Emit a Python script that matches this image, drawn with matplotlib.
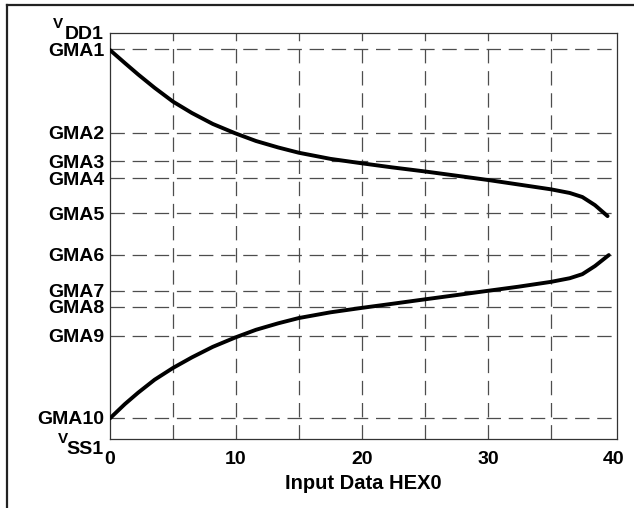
import matplotlib
matplotlib.use("Agg")
import matplotlib.pyplot as plt
from matplotlib.lines import Line2D

plt.rcParams["font.family"] = ["Liberation Sans", "DejaVu Sans"]
plt.rcParams["font.weight"] = "bold"

# gamma reference levels (relative voltage, VSS1 = 0, VDD1 = 100)
gma_labels = ["GMA1", "GMA2", "GMA3", "GMA4", "GMA5",
              "GMA6", "GMA7", "GMA8", "GMA9", "GMA10"]
gma_levels = [96.0, 75.4, 68.4, 64.2, 55.6, 45.4, 36.5, 32.6, 25.4, 5.2]

x_ticks = [0, 10, 20, 30, 40]
x_grid = [5, 10, 15, 20, 25, 30, 35]

# positive polarity curve (GMA1 -> GMA5)
upper_x = [0, 1.18, 2.23, 3.54, 5.0, 6.5, 8.16, 9.94, 11.59, 13.36, 15.0,
           17.5, 20.0, 22.4, 25.0, 27.4, 30.0, 32.4, 35.0, 36.5, 37.5, 38.5, 39.5]
upper_y = [95.8, 92.6, 89.8, 86.5, 83.1, 80.3, 77.6, 75.3, 73.4, 71.8, 70.5,
           69.0, 67.9, 66.9, 65.9, 64.9, 63.8, 62.7, 61.5, 60.6, 59.6, 57.6, 54.9]

# negative polarity curve (GMA10 -> GMA6)
lower_x = [0, 1.18, 2.23, 3.54, 5.0, 6.5, 8.16, 9.94, 11.59, 13.36, 15.0,
           17.5, 20.0, 22.4, 25.0, 27.4, 30.0, 32.4, 35.0, 36.5, 37.5, 38.5, 39.6]
lower_y = [5.1, 8.6, 11.4, 14.6, 17.5, 20.1, 22.7, 25.0, 26.9, 28.5, 29.8,
           31.2, 32.3, 33.3, 34.4, 35.4, 36.5, 37.5, 38.7, 39.6, 40.6, 42.6, 45.3]

fig = plt.figure(figsize=(6.34, 5.08), dpi=100)
ax = fig.add_axes([110 / 634, 69 / 508, 507 / 634, 406 / 508])

# outer frame (clipped at right and bottom like the source)
fig.add_artist(Line2D([7 / 634, 1.0], [1 - 5 / 508, 1 - 5 / 508], color="#222222", lw=1.6))
fig.add_artist(Line2D([7 / 634, 7 / 634], [1 - 5 / 508, 0.0], color="#222222", lw=1.6))

grid_style = dict(color="#4d4d4d", lw=0.9, dashes=(11.5, 6.2))
for lvl in gma_levels:
    ax.axhline(lvl, **grid_style, zorder=1)
for gx in x_grid:
    ax.axvline(gx, **grid_style, zorder=1)

ax.plot(upper_x, upper_y, color="black", lw=2.8, solid_capstyle="round",
        solid_joinstyle="round", zorder=3)
ax.plot(lower_x, lower_y, color="black", lw=2.8, solid_capstyle="round",
        solid_joinstyle="round", zorder=3)

ax.set_xlim(0, 40.25)
ax.set_ylim(0, 100)
ax.set_xticks(x_ticks)
ax.set_xticklabels([str(v) for v in x_ticks])
ax.set_yticks(gma_levels)
ax.set_yticklabels(gma_labels)
ax.tick_params(axis="both", length=0, labelsize=14)
ax.tick_params(axis="x", pad=9)
ax.tick_params(axis="y", pad=4)
for lbl in ax.get_xticklabels() + ax.get_yticklabels():
    lbl.set_fontweight("bold")

for sp in ax.spines.values():
    sp.set_color("#333333")
    sp.set_linewidth(0.9)

ax.set_xlabel("Input Data HEX0", fontsize=14.5, fontweight="bold", labelpad=4)

# supply rail labels: small raised V followed by subscript name
ax.text(-0.093, 1.012, "V", transform=ax.transAxes, fontsize=11, fontweight="bold",
        ha="right", va="baseline")
ax.text(-0.0125, 0.985, "DD1", transform=ax.transAxes, fontsize=14, fontweight="bold",
        ha="right", va="baseline")
ax.text(-0.083, -0.011, "V", transform=ax.transAxes, fontsize=11, fontweight="bold",
        ha="right", va="baseline")
ax.text(-0.0125, -0.037, "SS1", transform=ax.transAxes, fontsize=14, fontweight="bold",
        ha="right", va="baseline")

fig.savefig("out.png", dpi=100)
